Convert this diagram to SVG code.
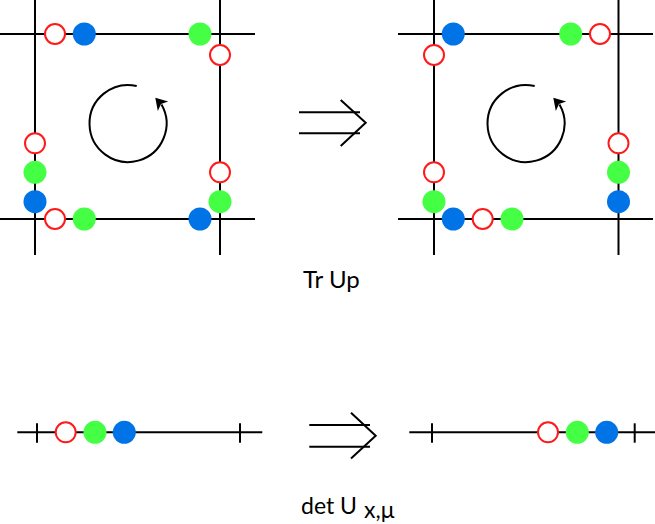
<svg xmlns="http://www.w3.org/2000/svg" width="655" height="524" viewBox="0 0 655 524">
<style>
.ln{stroke:#000;stroke-width:2;fill:none}
.r{fill:#fff;stroke:#ff1a1a;stroke-width:2}
.g{fill:#44ff44}
.b{fill:#0073e6}
.ah{fill:#000}
.t{font-family:Lato,"Open Sans",sans-serif;font-size:24px;fill:#000}
.t2{font-family:Lato,"Open Sans",sans-serif;font-size:23px;fill:#000}
</style>
<defs>
<circle id="cr" r="10" class="r"/>
<circle id="cg" r="11.5" class="g"/>
<circle id="cb" r="11.5" class="b"/>
<g id="rot">
<path class="ln" d="M136.7,86 A38.5,38.5 0 1 0 161.5,104.5"/>
<polygon class="ah" points="155.3,97.7 168.2,101.5 161,104 157.8,110.9"/>
</g>
</defs>
<g id="connectors">
<g id="grid-left">
<line class="ln" x1="0" y1="34" x2="255" y2="34"/>
<line class="ln" x1="0" y1="219" x2="255" y2="219"/>
<line class="ln" x1="35" y1="0" x2="35" y2="255"/>
<line class="ln" x1="220" y1="0" x2="220" y2="255"/>
</g>
<g id="grid-right">
<line class="ln" x1="398" y1="34" x2="653" y2="34"/>
<line class="ln" x1="398" y1="219" x2="653" y2="219"/>
<line class="ln" x1="434" y1="0" x2="434" y2="255"/>
<line class="ln" x1="618.5" y1="0" x2="618.5" y2="255"/>
</g>
<g id="implies-top">
<line class="ln" x1="299" y1="112.3" x2="360" y2="112.3"/>
<line class="ln" x1="299" y1="133.3" x2="360" y2="133.3"/>
<polyline class="ln" points="340.7,100 365.7,122.8 340.7,146"/>
</g>
<g id="implies-bottom">
<line class="ln" x1="309.3" y1="425" x2="370" y2="425"/>
<line class="ln" x1="309.3" y1="446.7" x2="370" y2="446.7"/>
<polyline class="ln" points="351,412.7 375.7,435.8 351,458.5"/>
</g>
<g id="line-left">
<line class="ln" x1="17.3" y1="432.3" x2="262.3" y2="432.3"/>
<line class="ln" x1="37" y1="423.3" x2="37" y2="442.7"/>
<line class="ln" x1="240" y1="423.3" x2="240" y2="442.7"/>
</g>
<g id="line-right">
<line class="ln" x1="409.3" y1="432.3" x2="655" y2="432.3"/>
<line class="ln" x1="432" y1="423.3" x2="432" y2="442.7"/>
<line class="ln" x1="634.7" y1="423.3" x2="634.7" y2="442.7"/>
</g>
</g>
<g id="rot-left"><use href="#rot"/></g>
<g id="rot-right"><use href="#rot" x="398"/></g>
<g id="plaquette-left">
<use href="#cr" x="55" y="34"/>
<use href="#cb" x="84.3" y="34"/>
<use href="#cg" x="200" y="34"/>
<use href="#cr" x="220" y="55"/>
<use href="#cr" x="35" y="143.3"/>
<use href="#cg" x="35" y="172.3"/>
<use href="#cb" x="35" y="201.7"/>
<use href="#cr" x="55" y="219"/>
<use href="#cg" x="84.3" y="219"/>
<use href="#cb" x="200" y="219"/>
<use href="#cr" x="220" y="172.3"/>
<use href="#cg" x="220" y="201.7"/>
</g>
<g id="plaquette-right">
<use href="#cb" x="453.3" y="34"/>
<use href="#cg" x="570.7" y="34"/>
<use href="#cr" x="600" y="34"/>
<use href="#cr" x="434" y="55"/>
<use href="#cr" x="434" y="172.3"/>
<use href="#cg" x="434" y="201.7"/>
<use href="#cb" x="453.3" y="219"/>
<use href="#cr" x="482.7" y="219"/>
<use href="#cg" x="512" y="219"/>
<use href="#cr" x="618.5" y="143.3"/>
<use href="#cg" x="618.5" y="172.3"/>
<use href="#cb" x="618.5" y="201.7"/>
</g>
<g id="link-left">
<use href="#cr" x="65.7" y="432.3"/>
<use href="#cg" x="95" y="432.3"/>
<use href="#cb" x="124.3" y="432.3"/>
</g>
<g id="link-right">
<use href="#cr" x="548" y="432.3"/>
<use href="#cg" x="577.3" y="432.3"/>
<use href="#cb" x="606.7" y="432.3"/>
</g>
<g id="label-top"><text class="t" x="303" y="287.7">Tr Up</text></g>
<g id="label-bottom"><text class="t2" x="301" y="513.5">det U<tspan x="364" y="517.5">x,μ</tspan></text></g>
</svg>
